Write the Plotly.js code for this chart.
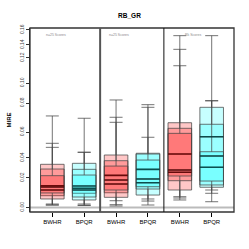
<!DOCTYPE html>
<html><head><meta charset="utf-8">
<script src="https://cdn.plot.ly/plotly-3.0.1.min.js"></script>
<style>html,body{margin:0;padding:0;background:#fff;}#c{width:249px;height:249px;}</style>
</head><body><div id="c"></div>
<script>
// categories
var methods = ["BWHR", "BPQR"];
var panels = ["p1", "p2", "p3"];
var tickLabels = ["BWHR", "BPQR", "BWHR", "BPQR", "BWHR", "BPQR"];
// y tick labels as read
var yTickVals = [0.1623, 0.1486, 0.1367, 0.1138, 0.0955, 0.0690, 0.0453, 0.0270, 0.0];
var yTickText = ["0.16", "0.14", "0.12", "0.10", "0.08", "0.06", "0.04", "0.02", "0.00"];

// Overlaid boxplot layers; each array: [panel1, panel2, panel3]
// BWHR layers
var bwhr_q1    = [[0.0108, 0.0135, 0.0160], [0.0078, 0.0093, 0.0245], [0.0133, 0.0160, 0.0288]];
var bwhr_med   = [[0.0199, 0.0294, 0.0489], [0.0160, 0.0215, 0.0322], [0.0187, 0.0251, 0.0343]];
var bwhr_q3    = [[0.0395, 0.0480, 0.0775], [0.0352, 0.0428, 0.0724], [0.0291, 0.0379, 0.0678]];
var bwhr_low   = [[0.0023, 0.0014, 0.0069], [0.0023, 0.0026, 0.0099], [0.0032, 0.0062, 0.0087]];
var bwhr_up    = [[0.0837, 0.0983, 0.1571], [0.0587, 0.0825, 0.1446], [0.0550, 0.0779, 0.1296]];
// BPQR layers
var bpqr_q1    = [[0.0069, 0.0114, 0.0185], [0.0130, 0.0169, 0.0206], [0.0096, 0.0190, 0.0242]];
var bpqr_med   = [[0.0176, 0.0349, 0.0368], [0.0197, 0.0227, 0.0647], [0.0160, 0.0261, 0.0471]];
var bpqr_q3    = [[0.0404, 0.0496, 0.0916], [0.0349, 0.0489, 0.0761], [0.0297, 0.0434, 0.0510]];
var bpqr_low   = [[0.0020, 0.0023, 0.0053], [0.0020, 0.0059, 0.0130], [0.0032, 0.0078, 0.0160]];
var bpqr_up    = [[0.0816, 0.0940, 0.1571], [0.0505, 0.0916, 0.0976], [0.0505, 0.0642, 0.0976]];

var panelNotes = ["n=25 Scores", "n=25 Scores", "Rk Scores"];

var fills = ["rgba(255,0,0,0.22)", "rgba(0,255,255,0.22)"];
var medCol = ["rgba(90,0,0,0.85)", "rgba(0,60,60,0.85)"];
var sets = [
  {q1: bwhr_q1, med: bwhr_med, q3: bwhr_q3, lo: bwhr_low, up: bwhr_up},
  {q1: bpqr_q1, med: bpqr_med, q3: bpqr_q3, lo: bpqr_low, up: bpqr_up}
];

var traces = [];
methods.forEach(function (m, mi) {
  var xs = panels.map(function (p, pi) { return pi * 2 + mi + 1; });
  var s = sets[mi];
  for (var L = 0; L < 3; L++) {
    traces.push({
      type: "box", name: m, x: xs,
      q1: s.q1[L], median: s.med[L], q3: s.q3[L],
      lowerfence: s.lo[L], upperfence: s.up[L],
      width: 0.74, whiskerwidth: 0.55,
      fillcolor: fills[mi],
      line: {color: "rgba(70,70,70,0.75)", width: 1},
      hoverinfo: "skip", showlegend: false
    });
  }
  for (var L2 = 0; L2 < 3; L2++) {
    traces.push({
      type: "box", name: m + " median", x: xs,
      q1: s.med[L2], median: s.med[L2], q3: s.med[L2],
      lowerfence: s.med[L2], upperfence: s.med[L2],
      width: 0.74, whiskerwidth: 0,
      fillcolor: "rgba(0,0,0,0)",
      line: {color: medCol[mi], width: 1.6},
      hoverinfo: "skip", showlegend: false
    });
  }
});

var annotations = panelNotes.map(function (t, i) {
  return {x: i * 2 + 1.5 + (i === 2 ? -0.1 : -0.4), y: 0.1577, xref: "x", yref: "y",
    text: t, showarrow: false, font: {size: 3.5, color: "#888", family: "Liberation Sans"}};
});

var layout = {
  width: 249, height: 249,
  margin: {l: 30, r: 15, t: 28, b: 37},
  paper_bgcolor: "#fff", plot_bgcolor: "#fff",
  showlegend: false, boxmode: "overlay",
  title: {text: "<b>RB_GR</b>", x: 0.52, y: 0.945, xanchor: "center",
    font: {size: 6.5, family: "Liberation Sans", color: "#000"}},
  xaxis: {range: [0.3, 6.7], tickvals: [1, 2, 3, 4, 5, 6], ticktext: tickLabels,
    showgrid: false, zeroline: false, ticks: "outside", ticklen: 4, tickcolor: "#000",
    tickfont: {size: 6, family: "Liberation Sans", color: "#000"}, showline: false},
  yaxis: {range: [-0.0041, 0.1641], tickvals: yTickVals, ticktext: yTickText,
    tickangle: -90, showgrid: false, zeroline: false, ticks: "outside", ticklen: 3,
    tickcolor: "#333", showline: true, linecolor: "#222", linewidth: 1,
    tickfont: {size: 5, family: "Liberation Sans", color: "#444"},
    title: {text: "<b>MIRE</b>", standoff: 6, font: {size: 6, family: "Liberation Sans", color: "#000"}}},
  shapes: [
    {type: "line", xref: "paper", yref: "y", x0: 0, x1: 1, y0: 0, y1: 0,
      line: {color: "#bbb", width: 2}, layer: "below"},
    {type: "rect", xref: "paper", yref: "paper", x0: 0, x1: 1, y0: 0, y1: 1,
      line: {color: "#333", width: 1.3}},
    {type: "line", xref: "x", yref: "paper", x0: 2.5, x1: 2.5, y0: 0, y1: 1,
      line: {color: "#555", width: 2}},
    {type: "line", xref: "x", yref: "paper", x0: 4.5, x1: 4.5, y0: 0, y1: 1,
      line: {color: "#111", width: 1}}
  ],
  annotations: annotations
};

Plotly.newPlot("c", traces, layout, {staticPlot: true, displayModeBar: false});
</script></body></html>
